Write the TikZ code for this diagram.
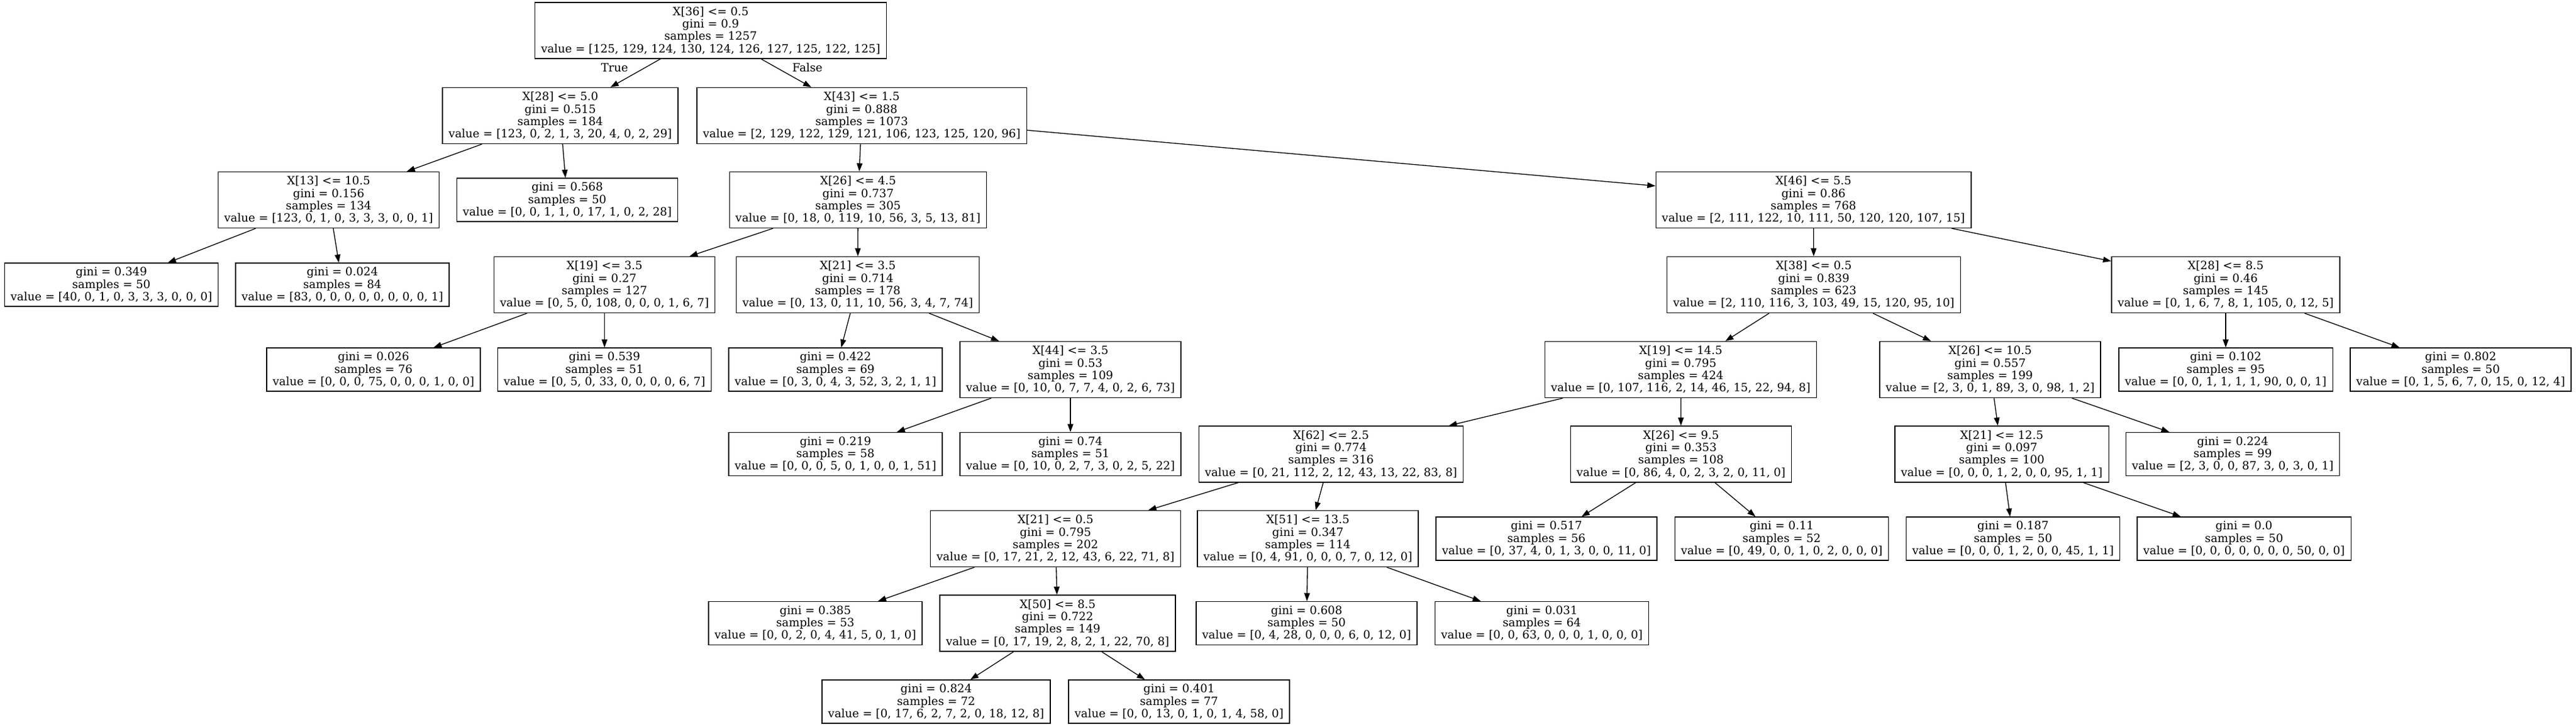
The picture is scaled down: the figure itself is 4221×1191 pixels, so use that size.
\documentclass[tikz,border=0pt]{standalone}
\usepackage{fontspec}
\setmainfont{DejaVu Serif}
\usetikzlibrary{arrows.meta}
\begin{document}
\begin{tikzpicture}[x=1pt,y=-1pt,
  box/.style={draw=black,line width=1.33pt,rectangle,align=center,inner xsep=10pt,inner ysep=0pt,
    font=\fontsize{18.67}{20.3}\selectfont},
  split/.style={box,minimum height=92pt},
  leaf/.style={box,minimum height=71pt},
  elabel/.style={font=\fontsize{18.67}{20.3}\selectfont,inner sep=0pt},
  edge/.style={draw=black,line width=1.33pt,-{Triangle[length=13.3pt,width=9.3pt]}}]
\useasboundingbox (0,0) rectangle (4221,1191);
% level 0
\node[split] (n0) at (1164.5,50) {X[36] <= 0.5\\gini = 0.9\\samples = 1257\\value = [125, 129, 124, 130, 124, 126, 127, 125, 122, 125]};
% level 1
\node[split] (n1) at (918,189.5) {X[28] <= 5.0\\gini = 0.515\\samples = 184\\value = [123, 0, 2, 1, 3, 20, 4, 0, 2, 29]};
\node[split] (n6) at (1412,189.5) {X[43] <= 1.5\\gini = 0.888\\samples = 1073\\value = [2, 129, 122, 129, 121, 106, 123, 125, 120, 96]};
% level 2
\node[split] (n2) at (538.5,327.5) {X[13] <= 10.5\\gini = 0.156\\samples = 134\\value = [123, 0, 1, 0, 3, 3, 3, 0, 0, 1]};
\node[leaf] (n5) at (929.5,327.5) {gini = 0.568\\samples = 50\\value = [0, 0, 1, 1, 0, 17, 1, 0, 2, 28]};
\node[split] (n7) at (1406,327.5) {X[26] <= 4.5\\gini = 0.737\\samples = 305\\value = [0, 18, 0, 119, 10, 56, 3, 5, 13, 81]};
\node[split] (n16) at (2971.5,327.5) {X[46] <= 5.5\\gini = 0.86\\samples = 768\\value = [2, 111, 122, 10, 111, 50, 120, 120, 107, 15]};
% level 3
\node[leaf] (n3) at (182.5,466.5) {gini = 0.349\\samples = 50\\value = [40, 0, 1, 0, 3, 3, 3, 0, 0, 0]};
\node[leaf] (n4) at (561,466.5) {gini = 0.024\\samples = 84\\value = [83, 0, 0, 0, 0, 0, 0, 0, 0, 1]};
\node[split] (n8) at (990.5,466.5) {X[19] <= 3.5\\gini = 0.27\\samples = 127\\value = [0, 5, 0, 108, 0, 0, 0, 1, 6, 7]};
\node[split] (n11) at (1405.5,466.5) {X[21] <= 3.5\\gini = 0.714\\samples = 178\\value = [0, 13, 0, 11, 10, 56, 3, 4, 7, 74]};
\node[split] (n17) at (2972,466.5) {X[38] <= 0.5\\gini = 0.839\\samples = 623\\value = [2, 110, 116, 3, 103, 49, 15, 120, 95, 10]};
\node[split] (n36) at (3647,466.5) {X[28] <= 8.5\\gini = 0.46\\samples = 145\\value = [0, 1, 6, 7, 8, 1, 105, 0, 12, 5]};
% level 4
\node[leaf] (n9) at (612,605.5) {gini = 0.026\\samples = 76\\value = [0, 0, 0, 75, 0, 0, 0, 1, 0, 0]};
\node[leaf] (n10) at (990.5,605.5) {gini = 0.539\\samples = 51\\value = [0, 5, 0, 33, 0, 0, 0, 0, 6, 7]};
\node[leaf] (n12) at (1369,605.5) {gini = 0.422\\samples = 69\\value = [0, 3, 0, 4, 3, 52, 3, 2, 1, 1]};
\node[split] (n13) at (1754,605.5) {X[44] <= 3.5\\gini = 0.53\\samples = 109\\value = [0, 10, 0, 7, 7, 4, 0, 2, 6, 73]};
\node[split] (n18) at (2754,605.5) {X[19] <= 14.5\\gini = 0.795\\samples = 424\\value = [0, 107, 116, 2, 14, 46, 15, 22, 94, 8]};
\node[split] (n31) at (3261,605.5) {X[26] <= 10.5\\gini = 0.557\\samples = 199\\value = [2, 3, 0, 1, 89, 3, 0, 98, 1, 2]};
\node[leaf] (n37) at (3647,605.5) {gini = 0.102\\samples = 95\\value = [0, 0, 1, 1, 1, 1, 90, 0, 0, 1]};
\node[leaf] (n38) at (4032,605.5) {gini = 0.802\\samples = 50\\value = [0, 1, 5, 6, 7, 0, 15, 0, 12, 4]};
% level 5
\node[leaf] (n14) at (1369,744) {gini = 0.219\\samples = 58\\value = [0, 0, 0, 5, 0, 1, 0, 0, 1, 51]};
\node[leaf] (n15) at (1754,744) {gini = 0.74\\samples = 51\\value = [0, 10, 0, 2, 7, 3, 0, 2, 5, 22]};
\node[split] (n19) at (2181,744) {X[62] <= 2.5\\gini = 0.774\\samples = 316\\value = [0, 21, 112, 2, 12, 43, 13, 22, 83, 8]};
\node[split] (n28) at (2754.5,744) {X[26] <= 9.5\\gini = 0.353\\samples = 108\\value = [0, 86, 4, 0, 2, 3, 2, 0, 11, 0]};
\node[split] (n32) at (3280,744) {X[21] <= 12.5\\gini = 0.097\\samples = 100\\value = [0, 0, 0, 1, 2, 0, 0, 95, 1, 1]};
\node[leaf] (n35) at (3658.5,744) {gini = 0.224\\samples = 99\\value = [2, 3, 0, 0, 87, 3, 0, 3, 0, 1]};
% level 6
\node[split] (n20) at (1729.5,882.5) {X[21] <= 0.5\\gini = 0.795\\samples = 202\\value = [0, 17, 21, 2, 12, 43, 6, 22, 71, 8]};
\node[split] (n25) at (2143,882.5) {X[51] <= 13.5\\gini = 0.347\\samples = 114\\value = [0, 4, 91, 0, 0, 0, 7, 0, 12, 0]};
\node[leaf] (n29) at (2534,882.5) {gini = 0.517\\samples = 56\\value = [0, 37, 4, 0, 1, 3, 0, 0, 11, 0]};
\node[leaf] (n30) at (2919.5,882.5) {gini = 0.11\\samples = 52\\value = [0, 49, 0, 0, 1, 0, 2, 0, 0, 0]};
\node[leaf] (n33) at (3298.5,882.5) {gini = 0.187\\samples = 50\\value = [0, 0, 0, 1, 2, 0, 0, 45, 1, 1]};
\node[leaf] (n34) at (3677,882.5) {gini = 0.0\\samples = 50\\value = [0, 0, 0, 0, 0, 0, 0, 50, 0, 0]};
% level 7
\node[leaf] (n21) at (1336,1021) {gini = 0.385\\samples = 53\\value = [0, 0, 2, 0, 4, 41, 5, 0, 1, 0]};
\node[split] (n22) at (1733,1021) {X[50] <= 8.5\\gini = 0.722\\samples = 149\\value = [0, 17, 19, 2, 8, 2, 1, 22, 70, 8]};
\node[leaf] (n26) at (2141,1021) {gini = 0.608\\samples = 50\\value = [0, 4, 28, 0, 0, 0, 6, 0, 12, 0]};
\node[leaf] (n27) at (2526.5,1021) {gini = 0.031\\samples = 64\\value = [0, 0, 63, 0, 0, 0, 1, 0, 0, 0]};
% level 8
\node[leaf] (n23) at (1534,1149.5) {gini = 0.824\\samples = 72\\value = [0, 17, 6, 2, 7, 2, 0, 18, 12, 8]};
\node[leaf] (n24) at (1932,1149.5) {gini = 0.401\\samples = 77\\value = [0, 0, 13, 0, 1, 0, 1, 4, 58, 0]};
% edge labels
\node[elabel] (lt) at (1007,111) {True};
\node[elabel] (lf) at (1323,111) {False};
% edges
\foreach \a/\b in {n0/n1,n0/n6,n1/n2,n1/n5,n2/n3,n2/n4,n6/n7,n6/n16,n7/n8,n7/n11,n8/n9,n8/n10,
  n11/n12,n11/n13,n13/n14,n13/n15,n16/n17,n16/n36,n17/n18,n17/n31,n18/n19,n18/n28,n19/n20,n19/n25,
  n20/n21,n20/n22,n22/n23,n22/n24,n25/n26,n25/n27,n28/n29,n28/n30,n31/n32,n31/n35,n32/n33,n32/n34,
  n36/n37,n36/n38}
  \draw[edge] (\a) -- (\b);
\end{tikzpicture}
\end{document}
